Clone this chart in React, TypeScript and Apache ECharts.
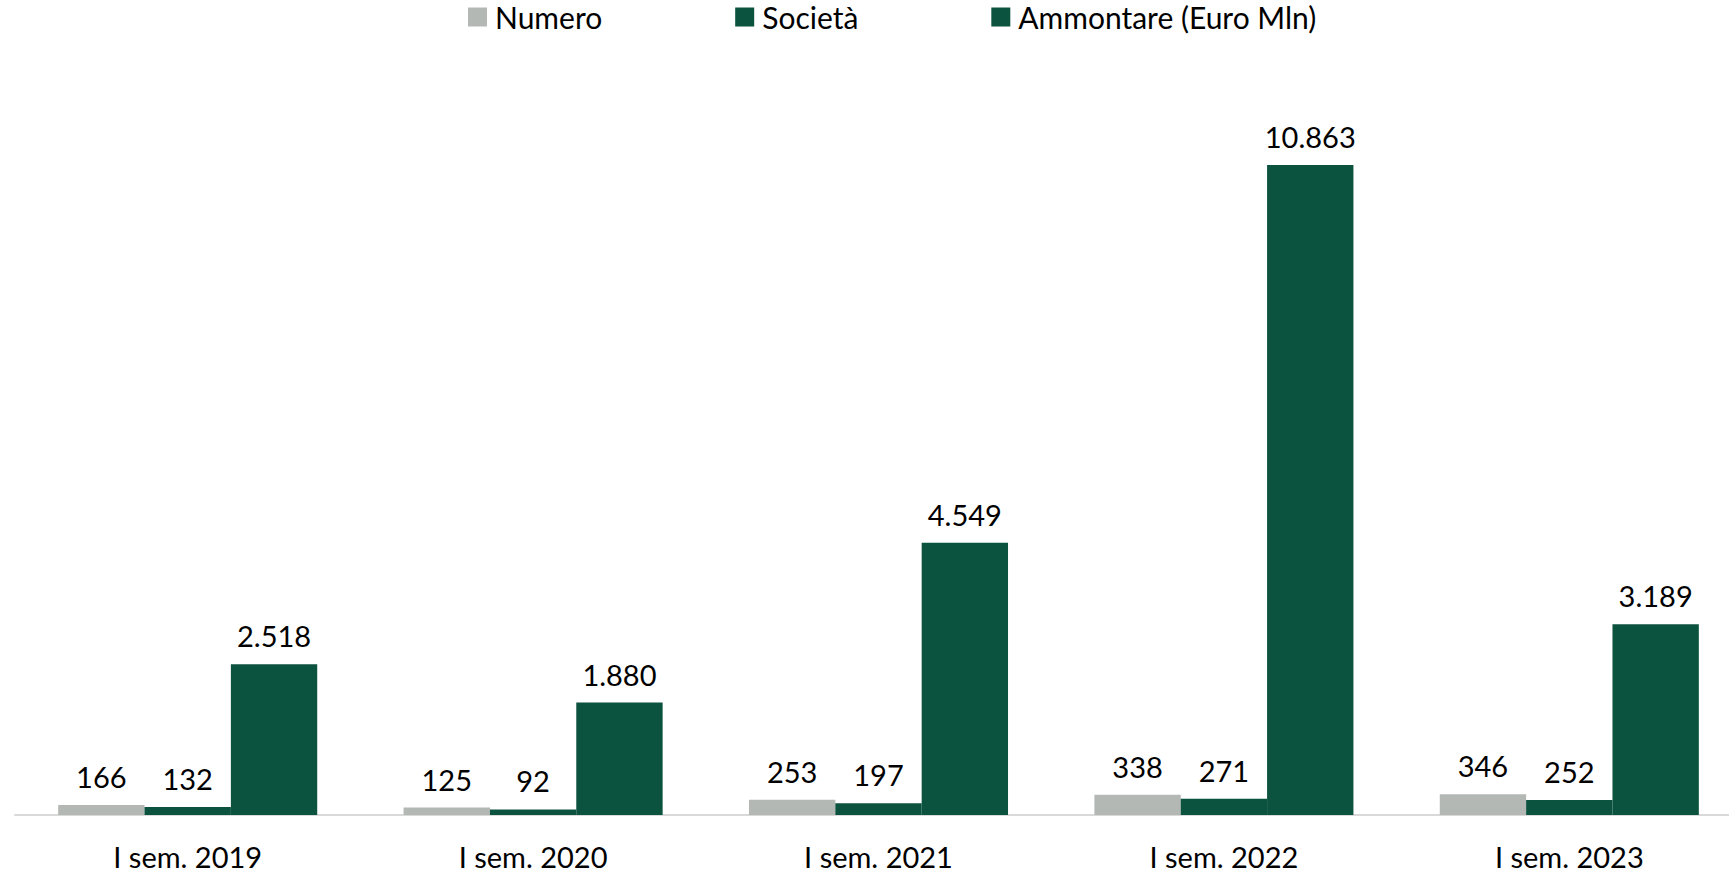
import React, { useEffect, useRef } from "react";
import * as echarts from "echarts";

const categories = ["I sem. 2019", "I sem. 2020", "I sem. 2021", "I sem. 2022", "I sem. 2023"];
const numero = [166, 125, 253, 338, 346];
const societa = [132, 92, 197, 271, 252];
const ammontare = [2518, 1880, 4549, 10863, 3189];
const seriesNames = ["Numero", "Società", "Ammontare (Euro Mln)"];

const GREY = "#B3B8B5";
const GREEN = "#0B523F";
const FONT = "Lato, 'Noto Sans', sans-serif";

const fmt = (v: number) => v.toString().replace(/\B(?=(\d{3})+(?!\d))/g, ".");

export default function App() {
  const ref = useRef<HTMLDivElement>(null);
  useEffect(() => {
    if (!ref.current) return;
    const chart = echarts.init(ref.current, null, { renderer: "svg" });
    const label = {
      show: true,
      position: "top" as const,
      distance: 14,
      color: "#000",
      fontSize: 29,
      fontFamily: FONT,
      formatter: (p: any) => fmt(p.value),
    };
    const mk = (name: string, data: number[], color: string) => ({
      name,
      type: "bar" as const,
      data,
      barGap: "0%",
      barCategoryGap: "25%",
      itemStyle: { color },
      label,
    });
    chart.setOption({
      animation: false,
      textStyle: { fontFamily: FONT },
      legend: {
        top: 0,
        left: 463,
        padding: [2, 5, 5, 5],
        itemWidth: 19,
        itemHeight: 19,
        itemGap: 133,
        icon: "rect",
        textStyle: { fontSize: 30, color: "#000", fontFamily: FONT, padding: [0, 0, 0, 3] },
        data: seriesNames,
      },
      grid: { left: 15, right: 3, top: 97, bottom: 61, containLabel: false },
      xAxis: {
        type: "category",
        data: categories,
        axisLine: { show: true, lineStyle: { color: "#D9D9D9", width: 2 } },
        axisTick: { show: false },
        axisLabel: { fontSize: 29, color: "#000", fontFamily: FONT, margin: 27 },
      },
      yAxis: {
        type: "value",
        min: 0,
        max: 12000,
        show: false,
        splitLine: { show: false },
      },
      series: [
        mk(seriesNames[0], numero, GREY),
        mk(seriesNames[1], societa, GREEN),
        mk(seriesNames[2], ammontare, GREEN),
      ],
    });
    return () => chart.dispose();
  }, []);
  return (
    <div
      ref={ref}
      style={{ position: "fixed", left: 0, top: 0, width: 1745, height: 876, background: "#fff" }}
    />
  );
}
